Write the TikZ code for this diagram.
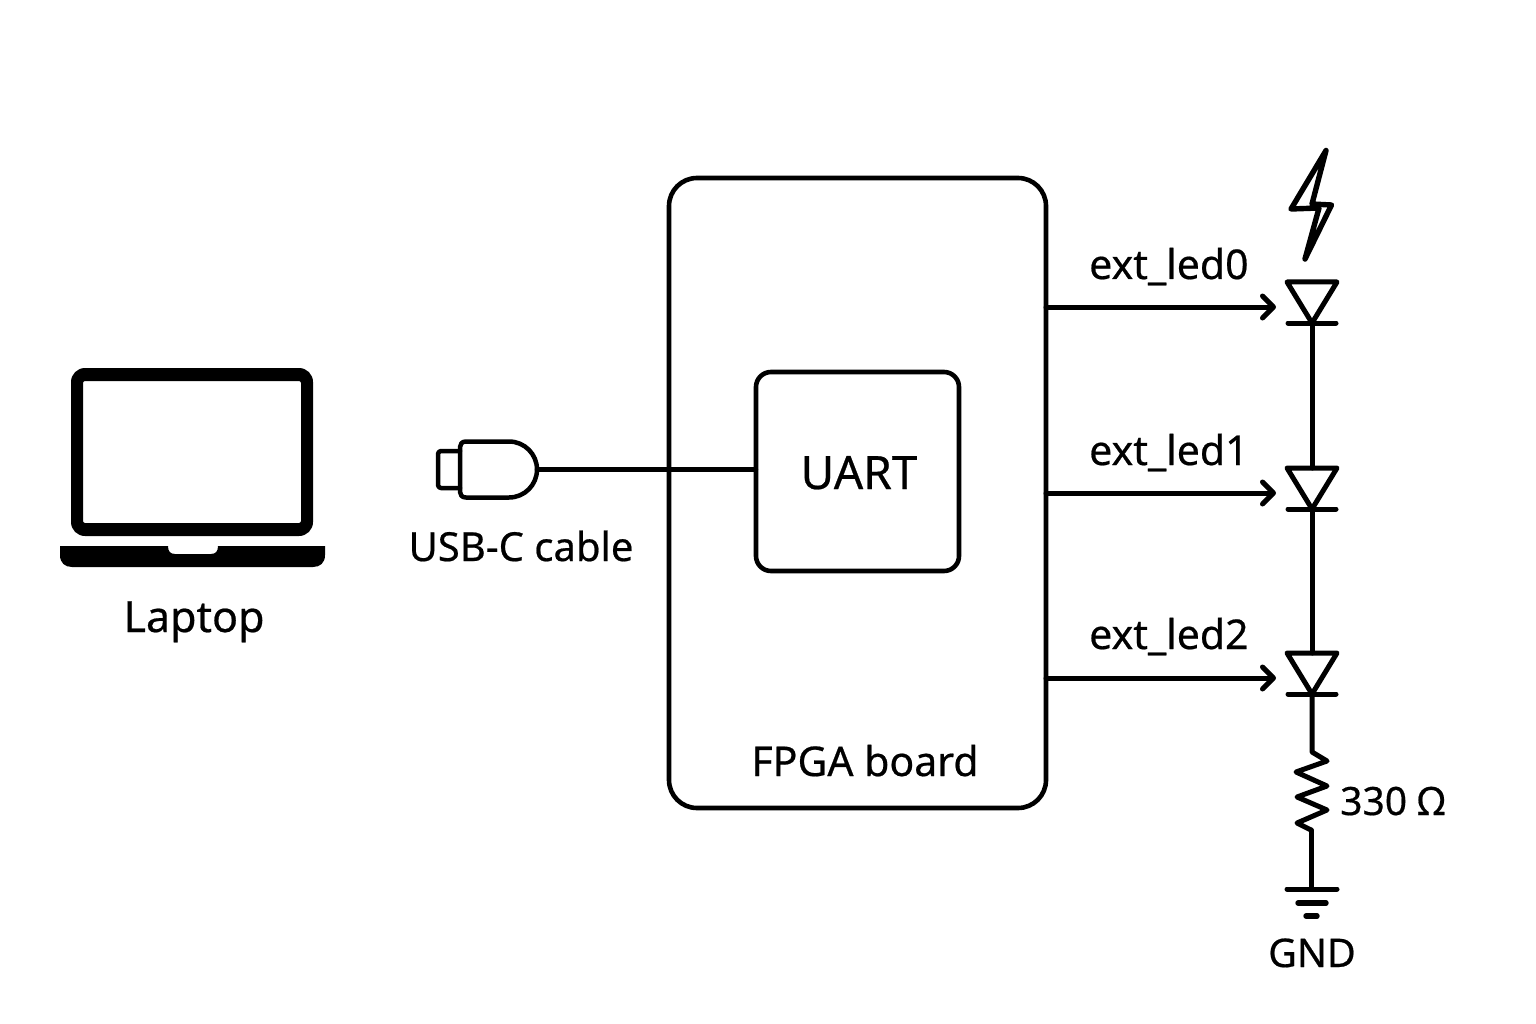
\documentclass[tikz,border=0pt]{standalone}
\usepackage{fontspec}
\setmainfont{Noto Sans}[FakeBold=0.5]
\usetikzlibrary{arrows.meta}
\tikzset{
  wire/.style={line width=5pt,line cap=round,line join=round,black},
  arrowwire/.style={wire,-{Straight Barb[length=11pt,width=22pt,line width=5pt,round]}},
  lbl/.style={anchor=base,inner sep=0pt,font=\fontsize{#1}{#1}\selectfont},
  lbl/.default=38,
  iconfill/.style={fill=black,draw=none},
}
\begin{document}
\begin{tikzpicture}[x=1pt,y=-1pt]
\useasboundingbox (0,0) rectangle (1536,1024);
% laptop
\path[iconfill,even odd rule,rounded corners=14pt] (71,368) rectangle (313,536)
  [rounded corners=2pt] (83,381) rectangle (301,523);
\path[iconfill] (60,546) -- (168,546) .. controls (168,551) and (170,554) .. (175,554)
  -- (211,554) .. controls (216,554) and (218,551) .. (218,546) -- (325,546) -- (325,555)
  .. controls (325,563) and (320,567) .. (313,567) -- (72,567)
  .. controls (65,567) and (60,563) .. (60,555) -- cycle;
\node[lbl=43] (laptop) at (194,632) {Laptop};
% USB plug
\draw[wire,line width=4.5pt,rounded corners=3pt] (460,451) -- (438,451) -- (438,488) -- (460,488);
\draw[wire,line width=4.5pt] (466,441.5) -- (509,441.5) arc[start angle=-90,end angle=90,radius=28] -- (466,497.5)
   .. controls (462,497.5) and (460,495) .. (460,492) -- (460,447) .. controls (460,444) and (462,441.5) .. (466,441.5) -- cycle;
\coordinate (usbtip) at (537,469.5);
\node[lbl=40] (usblabel) at (521,561) {USB-C cable};
% board
\node[draw,line width=4.6pt,rounded corners=28pt,minimum width=377pt,minimum height=630pt,inner sep=0pt,outer sep=0pt] (board) at (857.5,493) {};
\node[draw,line width=4.6pt,rounded corners=15pt,minimum width=203pt,minimum height=199pt,inner sep=0pt,outer sep=0pt] (uart) at (857.5,471.5) {};
\node[lbl=46] (uartlabel) at (859,489) {UART};
\node[lbl=41] (boardlabel) at (865,776) {FPGA board};
\draw[wire,line width=4.4pt] (usbtip) -- (uart.west |- usbtip);
% LEDs
\foreach \n/\t in {0/282,1/468,2/653}{
  \coordinate (ledtop\n) at (1312,\t);
  \coordinate (ledbar\n) at (1312,\t+41);
  \draw[wire] (1287,\t) -- (1337,\t) -- (1312,\t+41) -- cycle;
  \draw[wire] (1288,\t+41) -- (1336,\t+41);
  \coordinate (arrowend\n) at (1276,\t+25);
  \coordinate (arrowstart\n) at (board.east |- arrowend\n);
  \draw[arrowwire] (arrowstart\n) -- (arrowend\n);
}
\node[lbl=41,anchor=base west] (led0) at (1089,279) {ext\_led0};
\node[lbl=41,anchor=base west] (led1) at (1089,465) {ext\_led1};
\node[lbl=41,anchor=base west] (led2) at (1089,649) {ext\_led2};
\draw[wire] (ledbar0) -- (ledtop1);
\draw[wire] (ledbar1) -- (ledtop2);
% bolt
\draw[wire,line width=5.4pt] (1326,150.5) -- (1312,204) -- (1331.5,205) -- (1305,259) -- (1319,208) -- (1291,209) -- cycle;
% resistor
\coordinate (resbot) at (1311,830);
\draw[wire] (ledbar2) -- (1312,752) -- (1327,761) -- (1296,772) -- (1327,786) -- (1297,797) -- (1327,810) -- (1297,823) -- (resbot);
\node[lbl=39,anchor=base west] (reslabel) at (1340,815) {330 Ω};
% ground
\coordinate (gnd) at (1311,889);
\draw[wire] (resbot) -- (gnd);
\draw[wire] (1287,889) -- (1337,889);
\draw[wire,line width=5.4pt] (1298,903) -- (1326,903);
\draw[wire,line width=5.4pt] (1306,916) -- (1317,916);
\node[lbl=39.5] (gndlabel) at (1312,967) {GND};
\end{tikzpicture}
\end{document}
